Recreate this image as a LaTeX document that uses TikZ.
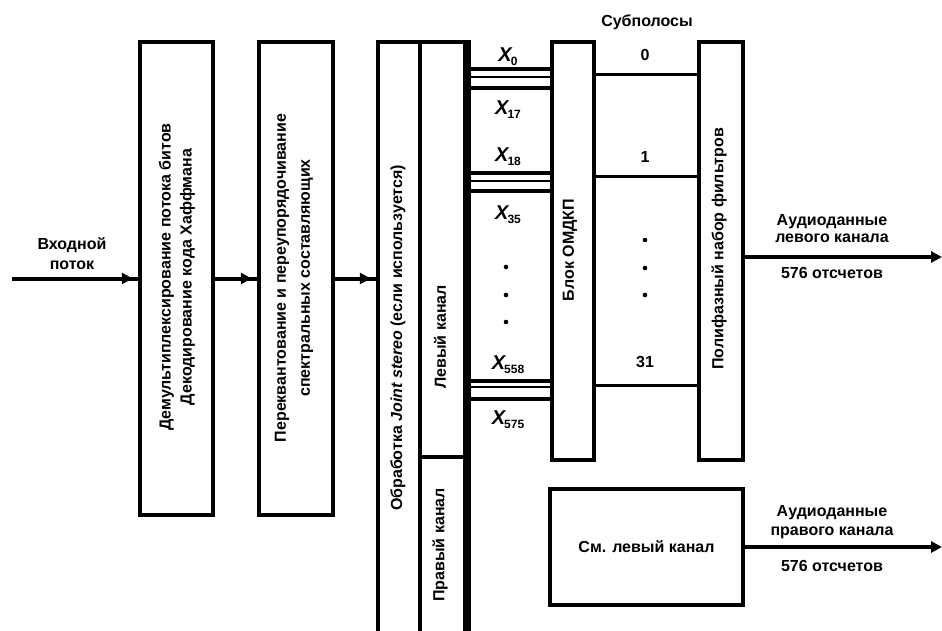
\documentclass[tikz,border=0pt]{standalone}
\usepackage{fontspec}
\setmainfont{Liberation Sans}
\usetikzlibrary{arrows.meta}

\tikzset{
  bloc/.style={draw, line width=4.5pt, inner sep=0pt},
  txt/.style={font=\fontsize{16}{20}\selectfont\bfseries, align=center, inner sep=0pt},
  txtv/.style={txt, rotate=90},
  fil/.style={line width=3pt},
  flux/.style={line width=4pt, postaction={draw, line width=4pt, -{Triangle[length=11pt,width=11pt]}, shorten >=5pt}},
  sortie/.style={line width=4pt, -{Triangle[length=11pt,width=11pt]}},
}
\newcommand{\xsub}[1]{{\fontsize{20}{20}\selectfont\itshape X}\kern-1pt\raisebox{-4pt}{\fontsize{12}{12}\selectfont #1}}

\begin{document}
\begin{tikzpicture}[x=1pt, y=-1pt]
  \useasboundingbox (0,0) rectangle (942,631);

  % 1. Blocs de décodage
  \node[bloc, minimum width=73, minimum height=473] (demux) at (176.5,278.5) {};
  \node[txtv, font=\fontsize{16}{21}\selectfont\bfseries] (tdemux) at (177,277) {Демультиплексирование потока битов\\Декодирование кода Хаффмана};
  \node[bloc, minimum width=74, minimum height=473] (requant) at (296,278.5) {};
  \node[txtv, font=\fontsize{16}{24}\selectfont\bfseries] (trequant) at (294,278) {Переквантование и переупорядочивание\\спектральных составляющих};

  % 2. Joint stereo et canaux (ouverts en bas)
  \node[bloc, minimum width=42, minimum height=618] (joint) at (399,351) {};
  \node[txtv] (tjoint) at (398,338) {Обработка \textit{Joint stereo} (если используется)};
  \node[bloc, minimum width=45, minimum height=415] (canalG) at (442.5,249.5) {};
  \node[txtv] (tcanalG) at (440,337) {Левый канал};
  \node[bloc, minimum width=45, minimum height=203] (canalD) at (442.5,558.5) {};
  \node[txtv] (tcanalD) at (440,545) {Правый канал};
  \draw[line width=7pt] (canalG.north east) -- (canalD.south east);

  % 3. Blocs de synthèse
  \node[bloc, minimum width=42, minimum height=418] (omdkp) at (573,251) {};
  \node[txtv] (tomdkp) at (570,250) {Блок ОМДКП};
  \node[bloc, minimum width=44, minimum height=418] (poly) at (721,251) {};
  \node[txtv] (tpoly) at (719,249) {Полифазный набор фильтров};
  \node[bloc, minimum width=193, minimum height=116] (voir) at (646.5,547) {};
  \node[txt] (tvoir) at (voir) {См. левый канал};

  % 4. Entrée et liaisons
  \coordinate (entree) at (12,278.5);
  \node[txt, font=\fontsize{16}{20}\selectfont\bfseries] (lentree) at (72,254) {Входной\\поток};
  \draw[flux] (entree) -- (demux.west);
  \draw[flux] (demux.east) -- (requant.west);
  \draw[flux] (requant.east) -- (requant.east -| joint.west);

  % 5. Lignes X vers le bloc ОМДКП
  \foreach \y/\w in {69/3.5, 77/2.5, 88/3.5, 173/3.5, 181/2.5, 191/3.5, 381/3.5, 387/2.5, 399/3.5}
    \draw[line width=\w pt] (canalG.east |- 0,\y) -- (omdkp.west |- 0,\y);
  \node[txt] (x0) at (508,57) {\xsub{0}};
  \node[txt] (x17) at (508,110) {\xsub{17}};
  \node[txt] (x18) at (508,157) {\xsub{18}};
  \node[txt] (x35) at (508,215) {\xsub{35}};
  \node[txt] (x558) at (508,365) {\xsub{558}};
  \node[txt] (x575) at (508,420) {\xsub{575}};
  \foreach \y in {267,295,322}
    \fill (506,\y) circle (2.3pt);

  % 6. Sous-bandes
  \foreach \y in {75,177,385}
    \draw[fil] (omdkp.east |- 0,\y) -- (poly.west |- 0,\y);
  \node[txt] (lsub) at (647,22) {Субполосы};
  \node[txt] (s0) at (645,55) {0};
  \node[txt] (s1) at (645,157) {1};
  \node[txt] (s31) at (645,362) {31};
  \foreach \y in {240,268,295}
    \fill (645,\y) circle (2.3pt);

  % 7. Sorties
  \coordinate (sortG) at (942,257);
  \coordinate (sortD) at (942,547);
  \draw[sortie] (poly.east |- sortG) -- (sortG);
  \draw[sortie] (voir.east) -- (sortD);
  \node[txt, font=\fontsize{16}{17}\selectfont\bfseries] (lgauche) at (832,229) {Аудиоданные\\левого канала};
  \node[txt] (ngauche) at (832,273) {576 отсчетов};
  \node[txt, font=\fontsize{16}{19}\selectfont\bfseries] (ldroite) at (832,522) {Аудиоданные\\правого канала};
  \node[txt] (ndroite) at (832,566) {576 отсчетов};

\end{tikzpicture}
\end{document}
